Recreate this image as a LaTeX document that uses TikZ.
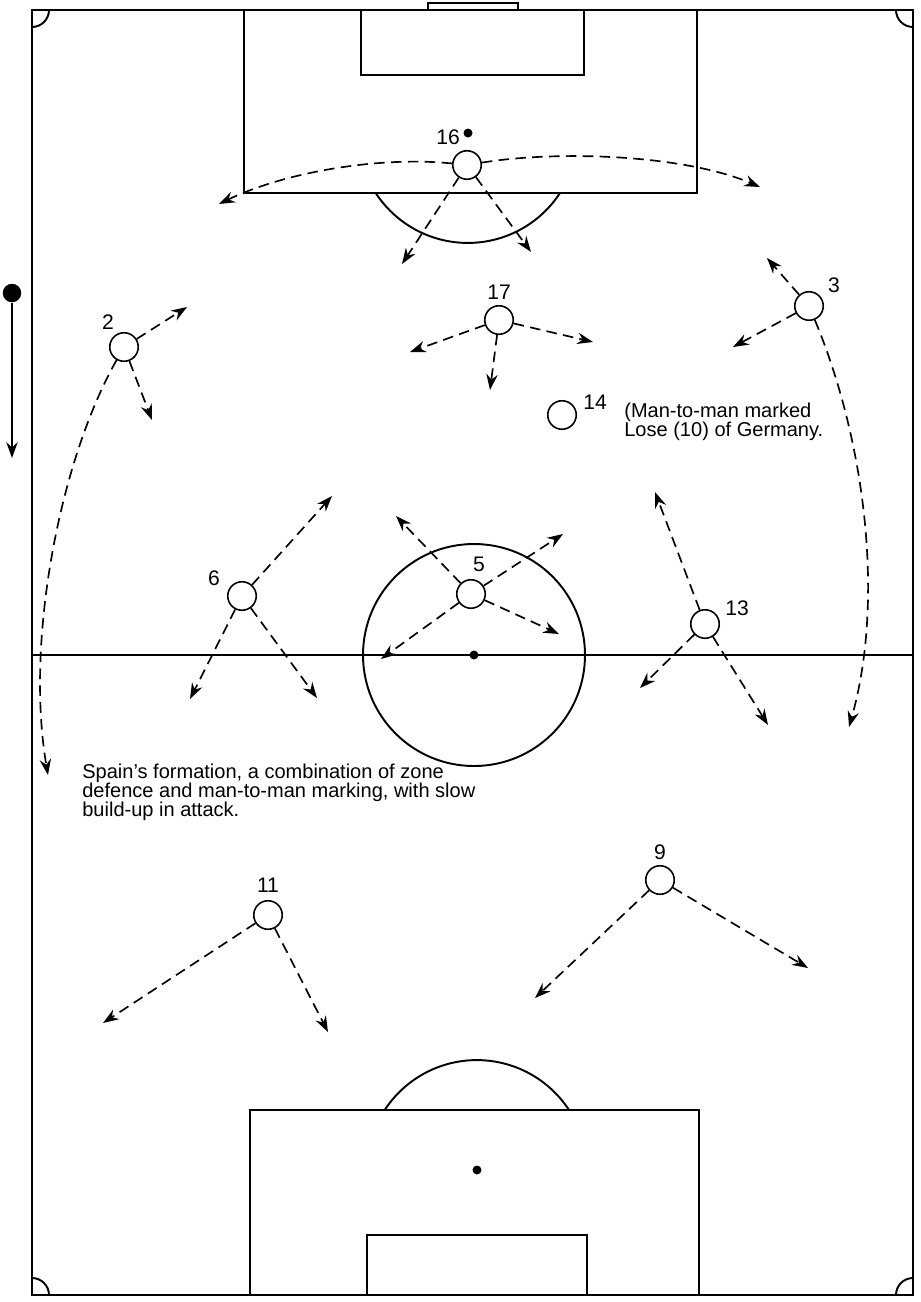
\documentclass[tikz,border=0pt]{standalone}
\usepackage{fontspec}
\setmainfont{Liberation Sans}
\usetikzlibrary{positioning, arrows.meta}

\begin{document}
\begin{tikzpicture}[
  x=0.02cm, y=-0.02cm,
  >=Stealth,
  field/.style={line width=1.1pt},
  player/.style={draw, circle, fill=white, minimum size=5.7mm, inner sep=0pt, line width=0.9pt},
  spot/.style={circle, fill=black, minimum size=1.8mm, inner sep=0pt},
  num/.style={font=\fontsize{12}{13}\selectfont, inner sep=1pt},
  note/.style={font=\fontsize{11.4}{10.8}\selectfont, align=left, inner sep=0pt, anchor=north west},
  move/.style={-{Stealth[length=9pt, width=6.5pt, inset=3pt]}, dash pattern=on 6pt off 3.6pt, line width=0.95pt},
  ballrun/.style={-{Stealth[length=9pt, width=6.5pt, inset=3pt]}, line width=0.95pt},
]
\useasboundingbox (0,0) rectangle (920,1302);

% --- Pitch ---
\draw[field] (32,10) rectangle (913,1295);
\draw[field] (32,655) -- (913,655);
\draw[field] (474,655) circle[radius=111];
\node[spot] (centre) at (474,655) {};

% --- Corners ---
\draw[field] (49,10) arc[start angle=0, end angle=90, radius=17];
\draw[field] (913,27) arc[start angle=90, end angle=180, radius=17];
\draw[field] (32,1278) arc[start angle=270, end angle=360, radius=17];
\draw[field] (896,1295) arc[start angle=180, end angle=270, radius=17];

% --- Top goal end ---
\draw[line width=0.7pt] (428,10) rectangle (518,3);
\draw[field] (244,10) rectangle (697,193);
\draw[field] (361,10) rectangle (584,75);
\draw[field] (560,193) arc[start angle=33.1, end angle=146.9, radius=110];
\node[spot] (topspot) at (468,133) {};

% --- Bottom goal end ---
\draw[field] (250,1110) rectangle (699,1295);
\draw[field] (367,1235) rectangle (587,1295);
\draw[field] (569,1110) arc[start angle=-33.1, end angle=-146.9, radius=110];
\node[spot] (botspot) at (477,1170) {};

% --- Direction of play ---
\node[spot, minimum size=3.7mm] (ball) at (12,293) {};
\coordinate (ballend) at (12,458);
\draw[ballrun] (ball) -- (ballend);

% --- Players ---
\node[player] (p16) at (467,165) {};
\node[player] (p17) at (499,320) {};
\node[player] (p2) at (124,347) {};
\node[player] (p3) at (809,306) {};
\node[player] (p14) at (562,415) {};
\node[player] (p5) at (471,594) {};
\node[player] (p6) at (242,596) {};
\node[player] (p13) at (705,624) {};
\node[player] (p11) at (268,915) {};
\node[player] (p9) at (660,880) {};

% --- Numbers ---
\node[num] (l16) at (448,137) {16};
\node[num] (l17) at (499,292) {17};
\node[num] (l2) at (108,322) {2};
\node[num] (l3) at (834,285) {3};
\node[num] (l14) at (595,402) {14};
\node[num] (l5) at (479,564) {5};
\node[num] (l6) at (214,578) {6};
\node[num] (l13) at (737,608) {13};
\node[num] (l11) at (268,885) {11};
\node[num] (l9) at (660,852) {9};

% --- Run targets ---
\coordinate (t16l) at (219,204);
\coordinate (t16r) at (760,187);
\coordinate (t16a) at (402,264);
\coordinate (t16b) at (531,252);
\coordinate (t17a) at (410,352);
\coordinate (t17b) at (490,390);
\coordinate (t17c) at (593,342);
\coordinate (t2a) at (187,307);
\coordinate (t2b) at (152,420);
\coordinate (t2c) at (48,775);
\coordinate (t3a) at (767,258);
\coordinate (t3b) at (733,347);
\coordinate (t3c) at (849,727);
\coordinate (t5a) at (396,516);
\coordinate (t5b) at (563,534);
\coordinate (t5c) at (559,634);
\coordinate (t5d) at (381,659);
\coordinate (t6a) at (332,496);
\coordinate (t6b) at (190,699);
\coordinate (t6c) at (317,698);
\coordinate (t13a) at (655,492);
\coordinate (t13b) at (640,688);
\coordinate (t13c) at (768,725);
\coordinate (t11a) at (103,1023);
\coordinate (t11b) at (328,1032);
\coordinate (t9a) at (535,998);
\coordinate (t9b) at (808,968);

% --- Runs ---
\draw[move] (p16) .. controls (380,156) and (285,172) .. (t16l);
\draw[move] (p16) .. controls (560,150) and (685,155) .. (t16r);
\draw[move] (p16) -- (t16a);
\draw[move] (p16) -- (t16b);
\draw[move] (p17) -- (t17a);
\draw[move] (p17) -- (t17b);
\draw[move] (p17) -- (t17c);
\draw[move] (p2) -- (t2a);
\draw[move] (p2) -- (t2b);
\draw[move] (p2) .. controls (60,460) and (25,640) .. (t2c);
\draw[move] (p3) -- (t3a);
\draw[move] (p3) -- (t3b);
\draw[move] (p3) .. controls (865,440) and (885,600) .. (t3c);
\draw[move] (p5) -- (t5a);
\draw[move] (p5) -- (t5b);
\draw[move] (p5) -- (t5c);
\draw[move] (p5) -- (t5d);
\draw[move] (p6) -- (t6a);
\draw[move] (p6) -- (t6b);
\draw[move] (p6) -- (t6c);
\draw[move] (p13) -- (t13a);
\draw[move] (p13) -- (t13b);
\draw[move] (p13) -- (t13c);
\draw[move] (p11) -- (t11a);
\draw[move] (p11) -- (t11b);
\draw[move] (p9) -- (t9a);
\draw[move] (p9) -- (t9b);

% --- Notes ---
\node[note] (n14) at (624,403) {(Man-to-man marked\\Lose (10) of Germany.};
\node[note] (nspain) at (82,764) {Spain’s formation, a combination of zone\\defence and man-to-man marking, with slow\\build-up in attack.};

\end{tikzpicture}
\end{document}
